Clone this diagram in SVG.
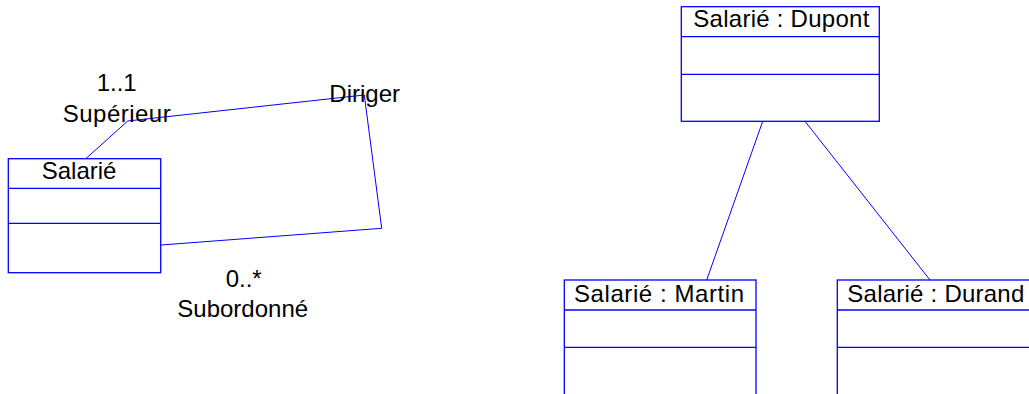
<svg xmlns="http://www.w3.org/2000/svg" width="1029" height="394" viewBox="0 0 1029 394">
<style>
.box{fill:#fff;stroke:#0000ff;stroke-width:1.3}
.div{stroke:#0000ff;stroke-width:1.3}
.ln{fill:none;stroke:#0000ff;stroke-width:1}
text{font-family:"Liberation Sans",Arial,sans-serif;font-size:24px;fill:#000}
</style>
<rect width="1029" height="394" fill="#fff"/>
<g id="connectors">
<polyline class="ln" points="86,158.5 127.7,121 364.3,95 381.7,228.3 161,245"/>
<line class="ln" x1="762.7" y1="121.3" x2="706.7" y2="280"/>
<line class="ln" x1="805" y1="121.3" x2="930" y2="280"/>
</g>
<g id="labels">
<text x="96.7" y="91">1..1</text>
<text x="62.7" y="121.7" textLength="108" lengthAdjust="spacing">Supérieur</text>
<text x="329.3" y="101.7">Diriger</text>
<text x="225.7" y="286.7">0..*</text>
<text x="177.3" y="316.7">Subordonné</text>
</g>
<g id="salarie">
<rect class="box" x="8.3" y="158.7" width="152.4" height="114"/>
<line class="div" x1="8.3" y1="188.3" x2="160.7" y2="188.3"/>
<line class="div" x1="8.3" y1="223.3" x2="160.7" y2="223.3"/>
<text x="41.7" y="179.3">Salarié</text>
</g>
<g id="dupont">
<rect class="box" x="681.3" y="6.7" width="198" height="114.6"/>
<line class="div" x1="681.3" y1="36.7" x2="879.3" y2="36.7"/>
<line class="div" x1="681.3" y1="74.3" x2="879.3" y2="74.3"/>
<text x="693.3" y="26.5" textLength="176" lengthAdjust="spacing">Salarié : Dupont</text>
</g>
<g id="martin">
<rect class="box" x="564.3" y="280" width="191.7" height="130"/>
<line class="div" x1="564.3" y1="310" x2="756" y2="310"/>
<line class="div" x1="564.3" y1="347.3" x2="756" y2="347.3"/>
<text x="574" y="301.7" textLength="170" lengthAdjust="spacing">Salarié : Martin</text>
</g>
<g id="durand">
<rect class="box" x="837.3" y="280" width="200" height="130"/>
<line class="div" x1="837.3" y1="310" x2="1037" y2="310"/>
<line class="div" x1="837.3" y1="347.3" x2="1037" y2="347.3"/>
<text x="847.3" y="301.7" textLength="177" lengthAdjust="spacing">Salarié : Durand</text>
</g>
</svg>
